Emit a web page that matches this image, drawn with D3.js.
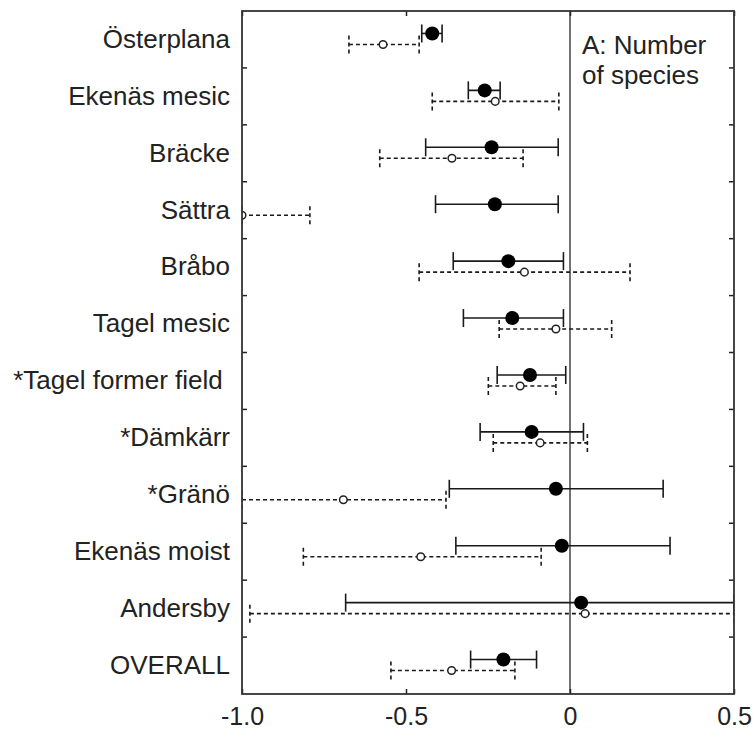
<!DOCTYPE html>
<html>
<head>
<meta charset="utf-8">
<script src="https://cdn.jsdelivr.net/npm/d3@7"></script>
<style>
  body { margin: 0; background: #fff; }
  text { font-family: "Liberation Sans", Arial, sans-serif; }
</style>
</head>
<body>
<div id="chart"></div>
<script>
var sites = ["Österplana", "Ekenäs mesic", "Bräcke", "Sättra", "Bråbo", "Tagel mesic",
  "*Tagel former field\u00a0", "*Dämkärr", "*Gränö", "Ekenäs moist", "Andersby", "OVERALL"];

// filled circles, solid bars
var solidMean = [-0.42, -0.26, -0.239, -0.229, -0.188, -0.176, -0.122, -0.117, -0.043, -0.025, 0.034, -0.203];
var solidLow  = [-0.452, -0.31, -0.44, -0.41, -0.356, -0.325, -0.222, -0.274, -0.368, -0.348, -0.684, -0.303];
var solidHigh = [-0.39, -0.213, -0.036, -0.036, -0.02, -0.02, -0.013, 0.041, 0.284, 0.305, 0.5, -0.102];

// open circles, dashed bars
var dashMean = [-0.57, -0.228, -0.36, -1.0, -0.139, -0.043, -0.152, -0.091, -0.691, -0.455, 0.046, -0.361];
var dashLow  = [-0.674, -0.42, -0.58, -1.0, -0.46, -0.216, -0.249, -0.234, -1.0, -0.813, -0.976, -0.546];
var dashHigh = [-0.46, -0.034, -0.143, -0.793, 0.183, 0.127, -0.043, 0.053, -0.378, -0.088, 0.5, -0.168];

var xTicks = [-1, -0.5, 0, 0.5];
var xTickLabels = ["-1.0", "-0.5", "0", "0.5"];
var titleLines = ["A: Number", "of species"];

var width = 754, height = 737;
var plotLeft = 242, plotRight = 734, plotTop = 11, plotBottom = 694;

var svg = d3.select("#chart").append("svg")
  .attr("width", width)
  .attr("height", height);

var x = d3.scaleLinear().domain([-1, 0.5]).range([plotLeft, plotRight]);
var y = d3.scaleBand().domain(sites).range([plotTop, plotBottom]).padding(0);
var half = y.bandwidth() / 2;

svg.append("clipPath").attr("id", "plot")
  .append("rect")
  .attr("x", plotLeft).attr("y", plotTop)
  .attr("width", plotRight - plotLeft).attr("height", plotBottom - plotTop);

// zero line
svg.append("line")
  .attr("x1", x(0)).attr("x2", x(0))
  .attr("y1", plotTop).attr("y2", plotBottom)
  .attr("stroke", "#444")
  .attr("stroke-width", 1.5);

// category axis (labels only), ticks drawn between bands
svg.append("g")
  .attr("transform", "translate(" + plotLeft + ",0)")
  .call(d3.axisLeft(y).tickSize(0).tickPadding(12))
  .call(function(g) {
    g.select(".domain").remove();
    g.selectAll("text").attr("font-size", 26).attr("fill", "#222")
      .attr("font-family", "'Liberation Sans', Arial, sans-serif");
  });

var bounds = sites.slice(1).map(function(s) { return y(s); });
[[plotLeft, 5], [plotRight, -5]].forEach(function(side) {
  svg.append("g").selectAll("line")
    .data(bounds)
    .enter().append("line")
    .attr("x1", side[0]).attr("x2", side[0] + side[1])
    .attr("y1", function(d) { return d; })
    .attr("y2", function(d) { return d; })
    .attr("stroke", "#222")
    .attr("stroke-width", 1.5);
});

svg.append("g")
  .attr("transform", "translate(0," + plotBottom + ")")
  .call(d3.axisBottom(x).tickValues(xTicks)
    .tickFormat(function(d, i) { return xTickLabels[i]; })
    .tickSizeInner(-5).tickSizeOuter(0).tickPadding(13))
  .call(function(g) {
    g.select(".domain").remove();
    g.selectAll("line").attr("stroke", "#222").attr("stroke-width", 1.5);
    g.selectAll("text").attr("font-size", 25).attr("fill", "#222")
      .attr("font-family", "'Liberation Sans', Arial, sans-serif");
  });

svg.append("g")
  .attr("transform", "translate(0," + plotTop + ")")
  .call(d3.axisTop(x).tickValues(xTicks).tickFormat("").tickSizeInner(-5).tickSizeOuter(0))
  .call(function(g) {
    g.select(".domain").remove();
    g.selectAll("line").attr("stroke", "#222").attr("stroke-width", 1.5);
  });

var marks = svg.append("g").attr("clip-path", "url(#plot)");

function drawSeries(mean, low, high, offset, dash, filled) {
  var rows = sites.map(function(s, i) {
    return { y: y(s) + half + offset, m: mean[i], lo: low[i], hi: high[i] };
  });
  var g = marks.append("g")
    .attr("stroke", "#1a1a1a")
    .attr("stroke-width", 1.6)
    .attr("stroke-dasharray", dash);

  g.selectAll(".bar").data(rows).enter().append("line")
    .attr("x1", function(d) { return x(d.lo); })
    .attr("x2", function(d) { return x(d.hi); })
    .attr("y1", function(d) { return d.y; })
    .attr("y2", function(d) { return d.y; });

  ["lo", "hi"].forEach(function(k) {
    g.selectAll(".cap-" + k).data(rows).enter().append("line")
      .attr("x1", function(d) { return x(d[k]); })
      .attr("x2", function(d) { return x(d[k]); })
      .attr("y1", function(d) { return d.y - 9; })
      .attr("y2", function(d) { return d.y + 9; });
  });

  marks.append("g").selectAll("circle").data(rows).enter().append("circle")
    .attr("cx", function(d) { return x(d.m); })
    .attr("cy", function(d) { return d.y; })
    .attr("r", filled ? 7 : 3.8)
    .attr("fill", filled ? "#000" : "#fff")
    .attr("stroke", filled ? "none" : "#222")
    .attr("stroke-width", 1.5);
}

drawSeries(dashMean, dashLow, dashHigh, 5, "4,3", false);
drawSeries(solidMean, solidLow, solidHigh, -6, null, true);

// frame
svg.append("rect")
  .attr("x", plotLeft).attr("y", plotTop)
  .attr("width", plotRight - plotLeft).attr("height", plotBottom - plotTop)
  .attr("fill", "none")
  .attr("stroke", "#333")
  .attr("stroke-width", 1.8);

svg.append("g").selectAll("text")
  .data(titleLines)
  .enter().append("text")
  .attr("x", 582)
  .attr("y", function(d, i) { return 54 + i * 30; })
  .attr("font-size", 26)
  .attr("fill", "#222")
  .text(function(d) { return d; });
</script>
</body>
</html>
